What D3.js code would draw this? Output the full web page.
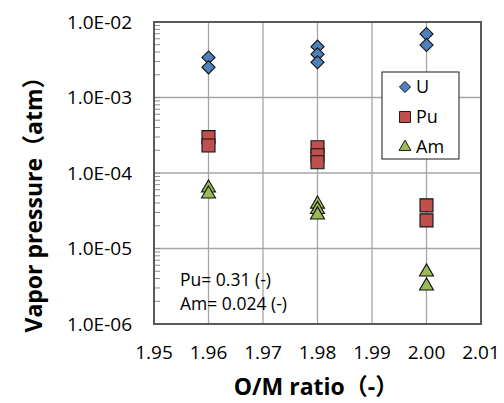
<!DOCTYPE html>
<html>
<head>
<meta charset="utf-8">
<script src="https://cdn.jsdelivr.net/npm/d3@7"></script>
<style>
  body { margin: 0; background: #fff; }
  text { font-family: "Open Sans", "Noto Sans CJK JP", sans-serif; fill: #000; }
</style>
</head>
<body>
<div id="chart"></div>
<script>
'use strict';

// data
const xTicks = [1.95, 1.96, 1.97, 1.98, 1.99, 2.00, 2.01]
const yTicks = [1e-2, 1e-3, 1e-4, 1e-5, 1e-6]

const uRatio = [1.96, 1.96, 1.98, 1.98, 1.98, 2.00, 2.00]
const uPressure = [3.39e-3, 2.51e-3, 4.71e-3, 3.73e-3, 2.93e-3, 6.94e-3, 4.96e-3]

const puRatio = [1.96, 1.96, 1.98, 1.98, 1.98, 2.00, 2.00]
const puPressure = [2.99e-4, 2.31e-4, 2.19e-4, 1.72e-4, 1.39e-4, 3.73e-5, 2.36e-5]

const amRatio = [1.96, 1.96, 1.98, 1.98, 1.98, 2.00, 2.00]
const amPressure = [6.33e-5, 5.27e-5, 3.88e-5, 3.29e-5, 2.78e-5, 4.89e-6, 3.19e-6]

const seriesNames = ['U', 'Pu', 'Am']
const notes = ['Pu= 0.31 (-)', 'Am= 0.024 (-)']

const width = 504, height = 403
const margin = {top: 22, right: 23, bottom: 79, left: 154}

const svg = d3.select('#chart')
    .append('svg')
    .attr('width', width)
    .attr('height', height)

const x = d3.scaleLinear().domain([1.95, 2.01]).range([margin.left, width - margin.right])
const y = d3.scaleLog().domain([1e-6, 1e-2]).range([height - margin.bottom, margin.top])

// gridlines
svg.append('g')
    .selectAll('line')
    .data(xTicks.slice(1, -1))
    .join('line')
    .attr('x1', d => x(d)).attr('x2', d => x(d))
    .attr('y1', y(1e-2)).attr('y2', y(1e-6))
    .attr('stroke', '#a6a6a6')
    .attr('stroke-width', 1.3)

svg.append('g')
    .selectAll('line')
    .data(yTicks.slice(1, -1))
    .join('line')
    .attr('x1', x(1.95)).attr('x2', x(2.01))
    .attr('y1', d => y(d)).attr('y2', d => y(d))
    .attr('stroke', '#a6a6a6')
    .attr('stroke-width', 1.3)

// minor ticks on the log axis (inside)
const minor = []
for (let e = -6; e < -2; e++) {
    for (let m = 1; m <= 9; m++) minor.push(m * Math.pow(10, e))
}
svg.append('g')
    .selectAll('line')
    .data(minor)
    .join('line')
    .attr('x1', x(1.95)).attr('x2', x(1.95) + 6)
    .attr('y1', d => y(d)).attr('y2', d => y(d))
    .attr('stroke', '#8c8c8c')
    .attr('stroke-width', 1)

// frame
svg.append('rect')
    .attr('x', x(1.95)).attr('y', y(1e-2))
    .attr('width', x(2.01) - x(1.95))
    .attr('height', y(1e-6) - y(1e-2))
    .attr('fill', 'none')
    .attr('stroke', '#595959')
    .attr('stroke-width', 2)

// tick labels
svg.append('g')
    .selectAll('text')
    .data(xTicks)
    .join('text')
    .attr('x', d => x(d))
    .attr('y', 359)
    .attr('text-anchor', 'middle')
    .style('font-size', '19px')
    .text(d => d3.format('.2f')(d))

svg.append('g')
    .selectAll('text')
    .data(yTicks)
    .join('text')
    .attr('x', 132)
    .attr('y', d => y(d))
    .attr('dy', '0.36em')
    .attr('text-anchor', 'end')
    .style('font-size', '19px')
    .text(d => d.toExponential(1).toUpperCase().replace(/E-(\d)$/, 'E-0$1'))

// axis titles
svg.append('text')
    .attr('x', 316)
    .attr('y', 395)
    .attr('text-anchor', 'middle')
    .style('font-size', '23px')
    .style('font-weight', 'bold')
    .text('O/M ratio（-）')

svg.append('text')
    .attr('transform', `translate(42,${(68 + 330) / 2}) rotate(-90)`)
    .attr('text-anchor', 'middle')
    .style('font-size', '23px')
    .style('font-weight', 'bold')
    .text('Vapor pressure（atm）')

// markers
const diamond = d3.symbol().type(d3.symbolSquare).size(86)
const square = d3.symbol().type(d3.symbolSquare).size(169)
const triangle = d3.symbol().type(d3.symbolTriangle).size(85)

const series = [
    {name: 'U', xs: uRatio, ys: uPressure, path: diamond(), rot: 45, fill: '#4f81bd'},
    {name: 'Pu', xs: puRatio, ys: puPressure, path: square(), rot: 0, fill: '#c0504d'},
    {name: 'Am', xs: amRatio, ys: amPressure, path: triangle(), rot: 0, fill: '#9bbb59'}
]

series.forEach(s => {
    svg.append('g')
        .selectAll('path')
        .data(s.xs.map((v, i) => [v, s.ys[i]]))
        .join('path')
        .attr('d', s.path)
        .attr('transform', d => `translate(${x(d[0])},${y(d[1])}) rotate(${s.rot})`)
        .attr('fill', s.fill)
        .attr('stroke', '#111')
        .attr('stroke-width', 1.1)
})

// legend
const legend = svg.append('g')
legend.append('rect')
    .attr('x', 382).attr('y', 72)
    .attr('width', 77).attr('height', 87)
    .attr('fill', '#fff')
    .attr('stroke', '#1a1a1a')
    .attr('stroke-width', 1)

series.forEach((s, i) => {
    const ly = 87 + i * 30
    legend.append('path')
        .attr('d', s.path)
        .attr('transform', `translate(405,${ly}) rotate(${s.rot}) scale(0.85)`)
        .attr('fill', s.fill)
        .attr('stroke', '#111')
        .attr('stroke-width', 1.1)
    legend.append('text')
        .attr('x', 416)
        .attr('y', ly)
        .attr('dy', '0.36em')
        .style('font-size', '18px')
        .text(seriesNames[i])
})

// annotation
svg.append('g')
    .selectAll('text')
    .data(notes)
    .join('text')
    .attr('x', 180)
    .attr('y', (d, i) => 286 + i * 24)
    .style('font-size', '17.5px')
    .text(d => d)
</script>
</body>
</html>
